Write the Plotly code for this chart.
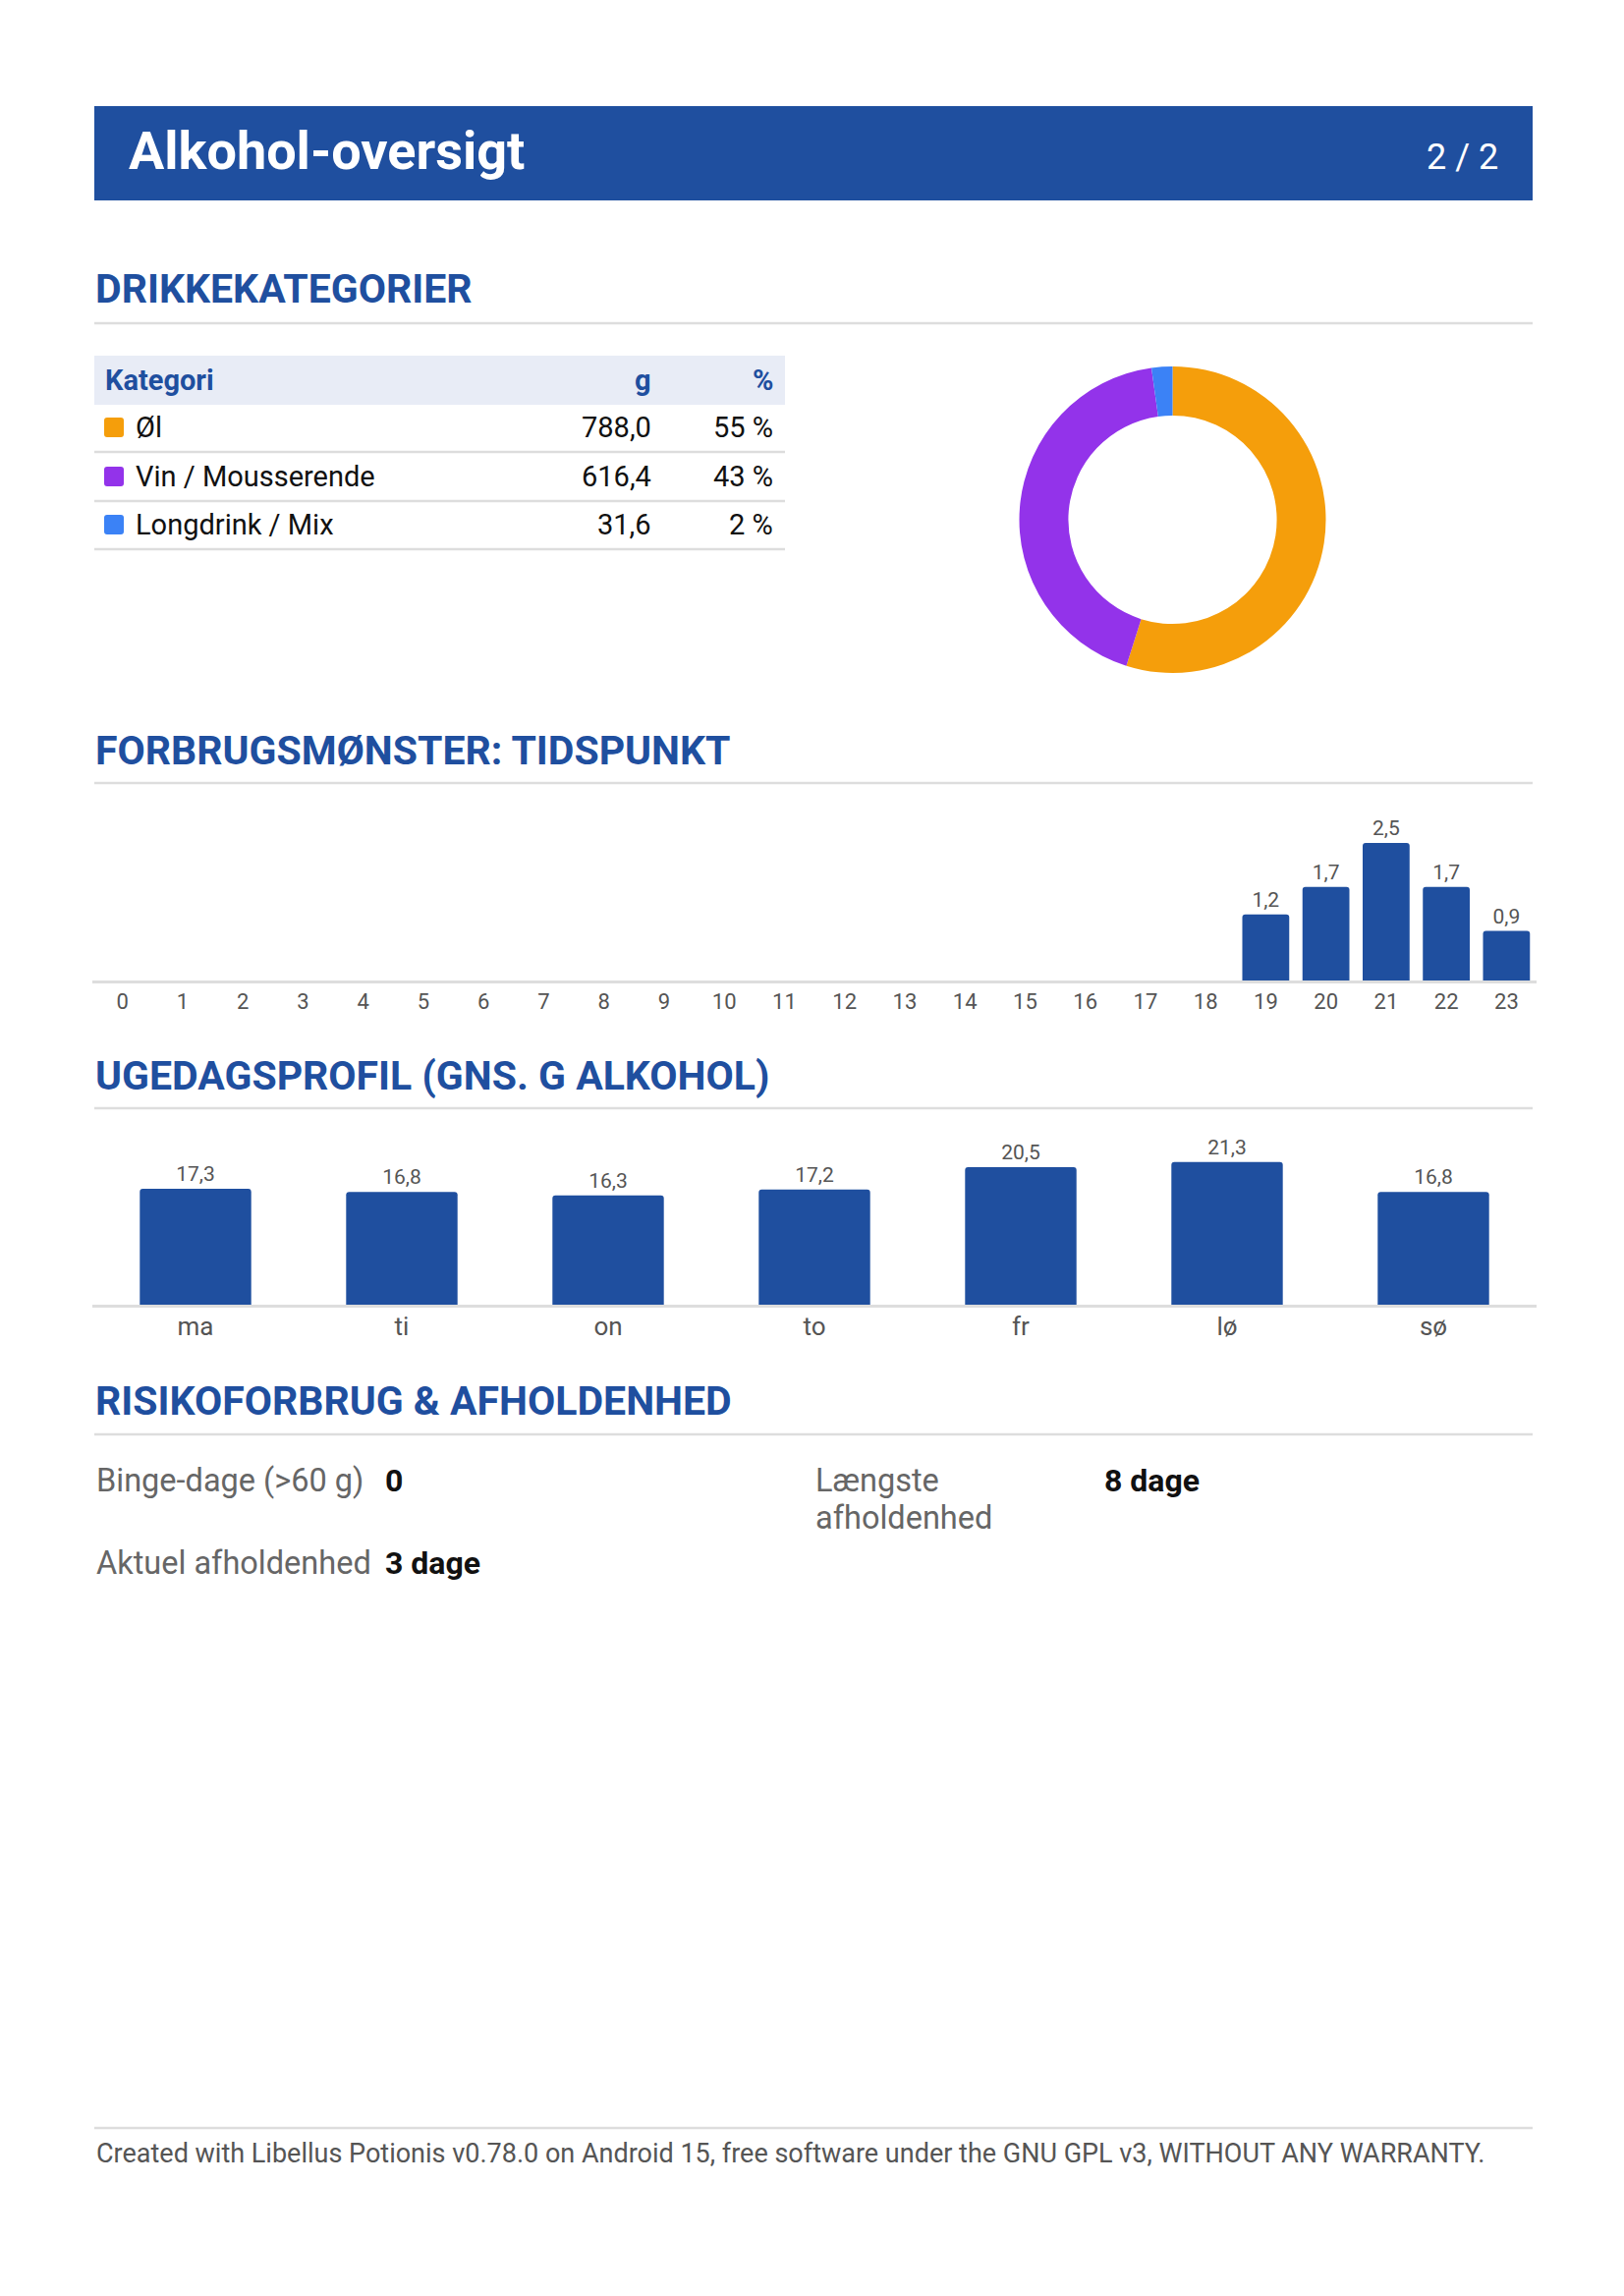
import plotly.graph_objects as go

W, H = 1653, 2337

# page data
page_title = "Alkohol-oversigt"
page_no = "2 / 2"

cat_names = ["Øl", "Vin / Mousserende", "Longdrink / Mix"]
cat_grams = [788.0, 616.4, 31.6]
cat_pct = [55, 43, 2]
cat_colors = ["#F59E0B", "#9333EA", "#3B82F6"]

hour_labels = ["0", "1", "2", "3", "4", "5", "6", "7", "8", "9", "10", "11",
               "12", "13", "14", "15", "16", "17", "18", "19", "20", "21", "22", "23"]
hour_values = [0, 0, 0, 0, 0, 0, 0, 0, 0, 0, 0, 0,
               0, 0, 0, 0, 0, 0, 0, 1.2, 1.7, 2.5, 1.7, 0.9]

day_labels = ["ma", "ti", "on", "to", "fr", "lø", "sø"]
day_values = [17.3, 16.8, 16.3, 17.2, 20.5, 21.3, 16.8]

risk_labels = ["Binge-dage (>60 g)", "Længste", "afholdenhed", "Aktuel afholdenhed"]
risk_values = ["0", "8 dage", "3 dage"]

footer = ("Created with Libellus Potionis v0.78.0 on Android 15, free software "
          "under the GNU GPL v3, WITHOUT ANY WARRANTY.")

BLUE = "#1F4F9F"
RULE = "#DDDDDD"
FONT = "Roboto"


def px(x):
    return x / W


def py(y):
    return 1 - y / H


def fmt(v):
    return f"{v:.1f}".replace(".", ",")


shapes = []
annotations = []


def text(x, y, s, size, color="#111111", bold=False, xanchor="left"):
    if bold:
        s = "<b>" + s + "</b>"
    annotations.append(dict(x=px(x), y=py(y), xref="paper", yref="paper", text=s,
                            showarrow=False, xanchor=xanchor, yanchor="middle",
                            align="left",
                            font=dict(family=FONT, size=size, color=color)))


def rule(y, x0=96, x1=1560):
    shapes.append(dict(type="line", xref="paper", yref="paper",
                       x0=px(x0), x1=px(x1), y0=py(y), y1=py(y),
                       line=dict(color=RULE, width=2.5)))


def rect(x0, y0, x1, y1, color):
    shapes.append(dict(type="rect", xref="paper", yref="paper", layer="below",
                       x0=px(x0), x1=px(x1), y0=py(y0), y1=py(y1),
                       fillcolor=color, line=dict(width=0)))


def round_rect(x0, y0, x1, y1, r, color):
    # small rounded square for the table swatches
    a, b, c, d = px(x0), px(x1), py(y0), py(y1)
    rx, ry = r / W, r / H
    path = (f"M {a + rx},{c} L {b - rx},{c} Q {b},{c} {b},{c - ry} "
            f"L {b},{d + ry} Q {b},{d} {b - rx},{d} L {a + rx},{d} "
            f"Q {a},{d} {a},{d + ry} L {a},{c - ry} Q {a},{c} {a + rx},{c} Z")
    shapes.append(dict(type="path", xref="paper", yref="paper", path=path,
                       fillcolor=color, line=dict(width=0)))


def heading(y, s):
    text(95, y, s, 41, BLUE, bold=True)


# header bar
rect(96, 108, 1560, 204, BLUE)
text(129, 153, page_title, 54, "white", bold=True)
text(1527, 160, page_no, 36, "white", xanchor="right")

# drink categories
heading(294, "DRIKKEKATEGORIER")
rule(329)
rect(96, 362, 799, 412, "#E8ECF6")
text(105, 387, "Kategori", 29, BLUE, bold=True)
text(665, 387, "g", 29, BLUE, bold=True, xanchor="right")
text(789, 387, "%", 29, BLUE, bold=True, xanchor="right")
row_y = [435, 485, 534]
for i, name in enumerate(cat_names):
    yc = row_y[i]
    round_rect(106, yc - 10, 126, yc + 10, 3, cat_colors[i])
    text(136, yc, name, 29)
    text(665, yc, fmt(cat_grams[i]), 29, xanchor="right")
    text(789, yc, f"{cat_pct[i]} %", 29, xanchor="right")
    rule(yc + 25, 96, 799)

# time of day
heading(764, "FORBRUGSMØNSTER: TIDSPUNKT")
rule(797)

# weekday
heading(1095, "UGEDAGSPROFIL (GNS. G ALKOHOL)")
rule(1128)

# risk
heading(1426, "RISIKOFORBRUG & AFHOLDENHED")
rule(1460)
text(96, 1507, risk_labels[0], 32.5, "#666666")
text(390, 1507, risk_values[0], 32, "#111111", bold=True)
text(828, 1507, risk_labels[1], 32.5, "#666666")
text(828, 1545, risk_labels[2], 32.5, "#666666")
text(1122, 1507, risk_values[1], 32, "#111111", bold=True)
text(96, 1591, risk_labels[3], 32.5, "#666666")
text(390, 1591, risk_values[2], 32, "#111111", bold=True)

# footer
rule(2166)
text(96, 2192, footer, 27, "#555555")

fig = go.Figure()

fig.add_trace(go.Pie(
    labels=cat_names, values=cat_grams, hole=0.68, sort=False,
    direction="clockwise", rotation=0, textinfo="none", hoverinfo="label+value",
    marker=dict(colors=cat_colors, line=dict(width=0)),
    domain=dict(x=[px(1037), px(1350)], y=[py(685), py(373)]),
    showlegend=False))

fig.add_trace(go.Bar(
    x=hour_labels, y=hour_values, xaxis="x", yaxis="y",
    marker=dict(color=BLUE, line=dict(width=0)),
    text=[fmt(v) if v else "" for v in hour_values], textposition="outside",
    textfont=dict(family=FONT, size=21, color="#555555"),
    cliponaxis=False, showlegend=False))

fig.add_trace(go.Bar(
    x=day_labels, y=day_values, xaxis="x2", yaxis="y2",
    marker=dict(color=BLUE, line=dict(width=0)),
    text=[fmt(v) for v in day_values], textposition="outside",
    textfont=dict(family=FONT, size=21, color="#555555"),
    cliponaxis=False, showlegend=False, width=0.54))

axis_common = dict(type="category", showgrid=False, zeroline=False,
                   showline=True, linecolor=RULE, linewidth=2.5, ticks="",
                   fixedrange=True)

fig.update_layout(
    width=W, height=H, autosize=False,
    margin=dict(l=0, r=0, t=0, b=0),
    paper_bgcolor="white", plot_bgcolor="white",
    font=dict(family=FONT),
    bargap=0.22, barcornerradius=3,
    xaxis=dict(axis_common, domain=[px(94), px(1564)], anchor="y",
               tickfont=dict(family=FONT, size=22, color="#555555")),
    yaxis=dict(domain=[py(998), py(823)], range=[0, 3.125], visible=False,
               fixedrange=True),
    xaxis2=dict(axis_common, domain=[px(94), px(1564)], anchor="y2",
                tickfont=dict(family=FONT, size=26, color="#555555"),
                ticklabelstandoff=-3),
    yaxis2=dict(domain=[py(1328), py(1154)], range=[0, 25.5], visible=False,
                fixedrange=True),
    shapes=shapes, annotations=annotations,
)

# page body margin off so the figure sits at the page origin
fig.write_html("out.html", config={"displayModeBar": False},
               post_script="document.body.style.margin='0px';")
